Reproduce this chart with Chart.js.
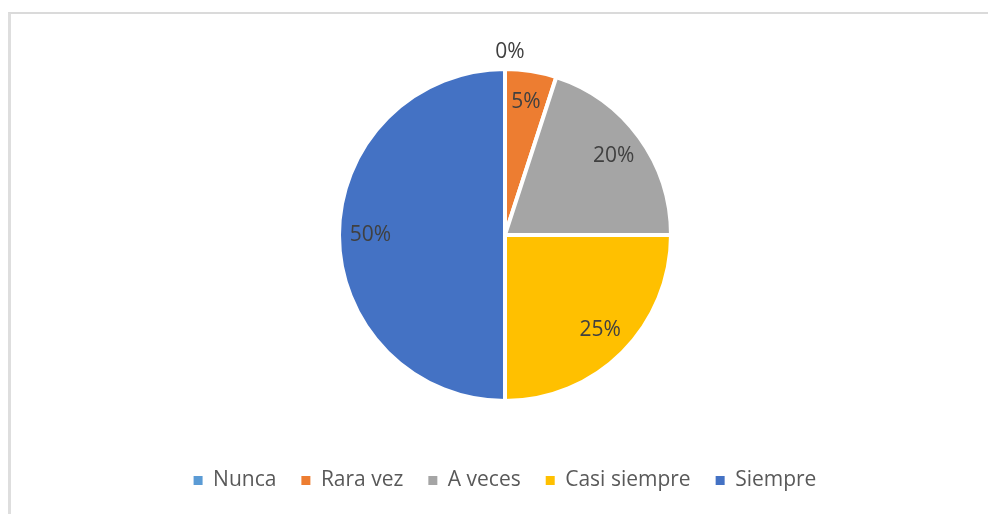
<!DOCTYPE html>
<html>
<head>
<meta charset="utf-8">
<script src="https://cdn.jsdelivr.net/npm/chart.js@4"></script>
<style>
  html, body { margin: 0; padding: 0; background: #fff; overflow: hidden; }
  #frame {
    position: absolute; left: 8px; top: 12px; width: 1000px; height: 520px;
    border-left: 3px solid #dedede; border-top: 2px solid #dadada;
  }
  #wrap { position: absolute; left: 0; top: 0; width: 988px; height: 514px; }
</style>
</head>
<body>
<div id="frame"></div>
<div id="wrap"><canvas id="pieChart"></canvas></div>
<script>
// Chart data
const categories = ['Nunca', 'Rara vez', 'A veces', 'Casi siempre', 'Siempre'];
const percentages = [0, 5, 20, 25, 50];
const sliceColors = ['#5B9BD5', '#ED7D31', '#A5A5A5', '#FFC000', '#4472C4'];

const FONT = 'Open Sans';

// Draws the percentage labels inside slices (outside for empty slices)
const pieLabels = {
  id: 'pieLabels',
  afterDatasetsDraw(chart) {
    const { ctx } = chart;
    const meta = chart.getDatasetMeta(0);
    ctx.save();
    ctx.font = `21px "${FONT}"`;
    ctx.fillStyle = '#404040';
    ctx.textAlign = 'center';
    ctx.textBaseline = 'middle';
    meta.data.forEach((arc, i) => {
      const p = arc.getProps(['x', 'y', 'startAngle', 'endAngle', 'outerRadius'], true);
      const mid = (p.startAngle + p.endAngle) / 2;
      const value = percentages[i];
      const dist = value === 0 ? p.outerRadius + 17 : p.outerRadius * 0.81;
      const dx = value === 0 ? 5 : 0;
      ctx.fillText(value + '%', p.x + Math.cos(mid) * dist + dx, p.y + Math.sin(mid) * dist);
    });
    ctx.restore();
  }
};

// legend boxes without the white slice border
const defaultLabels = Chart.overrides.pie.plugins.legend.labels.generateLabels;

new Chart(document.getElementById('pieChart'), {
  type: 'pie',
  data: {
    labels: categories,
    datasets: [{
      data: percentages,
      backgroundColor: sliceColors,
      borderColor: '#fff',
      borderWidth: 4,
      radius: 166
    }]
  },
  options: {
    responsive: true,
    maintainAspectRatio: false,
    animation: false,
    layout: { padding: { top: 25, bottom: 13, left: 22, right: 0 } },
    plugins: {
      tooltip: { enabled: false },
      legend: {
        position: 'bottom',
        labels: {
          boxWidth: 9,
          boxHeight: 9,
          padding: 25,
          color: '#595959',
          font: { family: FONT, size: 21 },
          generateLabels(chart) {
            return defaultLabels(chart).map(item => ({ ...item, lineWidth: 0, strokeStyle: item.fillStyle }));
          }
        }
      }
    }
  },
  plugins: [pieLabels]
});
</script>
</body>
</html>
